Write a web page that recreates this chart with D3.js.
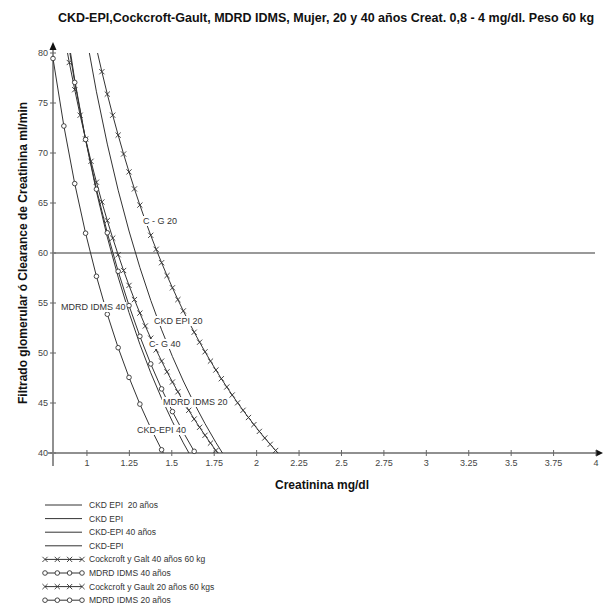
<!DOCTYPE html>
<html><head><meta charset="utf-8">
<script src="https://cdn.jsdelivr.net/npm/d3@7"></script>
<style>
html,body{margin:0;padding:0;background:#fff;}
text{font-family:"Liberation Sans",Arial,sans-serif;white-space:pre;}
</style></head>
<body>
<svg id="chart" width="603" height="609"></svg>
<script>
// ---------- data ----------
const titleText = "CKD-EPI,Cockcroft-Gault, MDRD IDMS, Mujer, 20 y 40 años Creat. 0,8 - 4 mg/dl. Peso 60 kg";
const xTitle = "Creatinina mg/dl";
const yTitle = "Filtrado glomerular ó Clearance de Creatinina ml/min";
const xTicks = [1,1.25,1.5,1.75,2,2.25,2.5,2.75,3,3.25,3.5,3.75,4];
const xTickLabels = ["1","1.25","1.5","1.75","2","2.25","2.5","2.75","3","3.25","3.5","3.75","4"];
const yTicks = [40,45,50,55,60,65,70,75,80];
const refValue = 60;

// creatinine grid (fine) used by Cockcroft-Gault series
const creatFine = [0.864,0.896,0.928,0.960,0.992,1.024,1.056,1.088,1.120,1.152,1.184,1.216,1.248,1.280,1.312,1.344,1.376,1.408,1.440,1.472,1.504,1.536,1.568,1.600,1.632,1.664,1.696,1.728,1.760,1.792,1.824,1.856,1.888,1.920,1.952,1.984,2.016,2.048,2.080,2.112,2.144];
const cg40 = [81.98,79.05,76.33,73.78,71.40,69.17,67.08,65.10,63.24,61.49,59.83,58.25,56.76,55.34,53.99,52.70,51.48,50.31,49.19,48.12,47.10,46.12,45.17,44.27,43.40,42.57,41.77,40.99,40.25,39.53,null,null,null,null,null,null,null,null,null,null,null];
const cg20 = [null,null,null,null,null,null,80.49,78.13,75.89,73.78,71.79,69.90,68.11,66.41,64.79,63.24,61.77,60.37,59.03,57.74,56.52,55.34,54.21,53.13,52.08,51.08,50.12,49.19,48.30,47.43,46.60,45.80,45.02,44.27,43.55,42.84,42.16,41.50,40.87,40.25,39.65];

// creatinine grid (coarse) used by MDRD and CKD-EPI series
const creatCoarse = [0.800,0.864,0.928,0.992,1.056,1.120,1.184,1.248,1.312,1.376,1.440,1.504,1.568,1.632,1.696,1.760,1.824];
const mdrd40 = [79.45,72.70,66.94,61.98,57.67,53.88,50.53,47.56,44.89,42.49,40.32,38.34,null,null,null,null,null];
const mdrd20 = [null,83.68,77.06,71.35,66.38,62.02,58.17,54.74,51.67,48.91,46.41,44.14,42.07,40.17,38.42,null,null];
const ckd40 = [null,84.30,77.32,71.33,66.14,61.59,57.59,54.04,50.87,48.02,45.46,43.13,41.01,39.07,null,null,null];
const ckd20 = [null,null,null,82.09,76.12,70.89,66.28,62.20,58.55,55.27,52.32,49.64,47.20,44.97,42.93,41.05,39.31];

const legendLabels = ["CKD EPI  20 años","CKD EPI","CKD-EPI 40 años","CKD-EPI","Cockcroft y Galt 40 años 60 kg","MDRD IDMS 40 años","Cockcroft y Gault 20 años 60 kgs","MDRD IDMS 20 años"];
const legendMarkers = ["none","none","none","none","cross","circle","cross","circle"];

const curveLabels = ["C - G 20","MDRD IDMS 40","CKD EPI 20","C- G 40","MDRD IDMS 20","CKD-EPI 40"];
const curveLabelX = [1.330,0.847,1.395,1.366,1.448,1.295];
const curveLabelY = [62.9,54.3,52.9,50.6,44.8,42.0];

// ---------- layout ----------
const svg = d3.select("#chart");
const x = d3.scaleLinear().domain([0.8,4]).range([53,596]);
const y = d3.scaleLinear().domain([40,80]).range([453,53]);
const ink = "#333";
const axisCol = "#909090";

svg.append("text").attr("x",326).attr("y",22).attr("text-anchor","middle")
  .attr("font-size","12.5px").attr("font-weight","bold").attr("fill","#111").text(titleText);

svg.append("defs").append("clipPath").attr("id","plotclip")
  .append("rect").attr("x",48).attr("y",50).attr("width",552).attr("height",407);
svg.append("defs").append("clipPath").attr("id","lineclip")
  .append("rect").attr("x",53).attr("y",y(80)).attr("width",545).attr("height",y(40)-y(80));

// reference line at 60
svg.append("line").attr("x1",x(0.8)).attr("x2",x(4)-1).attr("y1",y(refValue)).attr("y2",y(refValue))
  .attr("stroke","#999").attr("stroke-width",2);

// axes
svg.append("line").attr("x1",x(0.8)).attr("x2",x(0.8)).attr("y1",y(80)-4).attr("y2",466)
  .attr("stroke",axisCol).attr("stroke-width",2);
svg.append("line").attr("x1",48).attr("x2",x(4)+2).attr("y1",y(40)).attr("y2",y(40))
  .attr("stroke",axisCol).attr("stroke-width",2);
svg.append("path").attr("d",`M${x(0.8)},${y(80)-11} L${x(0.8)-3.5},${y(80)-3} L${x(0.8)+3.5},${y(80)-3} Z`).attr("fill","#111");
svg.append("path").attr("d",`M${x(4)+7},${y(40)} L${x(4)},${y(40)-3.5} L${x(4)},${y(40)+3.5} Z`).attr("fill","#111");

// y ticks
const yt = svg.append("g");
yTicks.forEach(v=>{
  yt.append("line").attr("x1",x(0.8)-3).attr("x2",x(0.8)+3).attr("y1",y(v)).attr("y2",y(v)).attr("stroke","#666");
  yt.append("text").attr("x",48).attr("y",y(v)).attr("dy","0.35em").attr("text-anchor","end")
    .attr("font-size","9px").attr("fill","#444").text(v);
});
// x ticks
const xt = svg.append("g");
xTicks.forEach((v,i)=>{
  xt.append("line").attr("x1",x(v)).attr("x2",x(v)).attr("y1",y(40)-3).attr("y2",y(40)+3).attr("stroke","#666");
  xt.append("text").attr("x",x(v)).attr("y",466).attr("text-anchor","middle")
    .attr("font-size","9px").attr("fill","#444").text(xTickLabels[i]);
});

svg.append("text").attr("x",322).attr("y",489).attr("text-anchor","middle")
  .attr("font-size","12px").attr("font-weight","bold").attr("fill","#111").text(xTitle);
svg.append("text").attr("transform","translate(27,253) rotate(-90)").attr("text-anchor","middle")
  .attr("font-size","12px").attr("font-weight","bold").attr("fill","#111").text(yTitle);

// series
const series = [
  {xs:creatCoarse, ys:ckd20, m:"none"},
  {xs:creatCoarse, ys:ckd40, m:"none"},
  {xs:creatFine, ys:cg40, m:"cross"},
  {xs:creatCoarse, ys:mdrd40, m:"circle"},
  {xs:creatFine, ys:cg20, m:"cross"},
  {xs:creatCoarse, ys:mdrd20, m:"circle"}
];
const lineGen = d3.line().defined(d=>d[1]!==null).x(d=>x(d[0])).y(d=>y(d[1]));
const gl = svg.append("g").attr("clip-path","url(#lineclip)");
const gm = svg.append("g").attr("clip-path","url(#plotclip)");
function drawMarker(g,type,cx,cy){
  if(type==="circle"){
    g.append("circle").attr("cx",cx).attr("cy",cy).attr("r",2.3).attr("fill","#fff").attr("stroke",ink).attr("stroke-width",0.9);
  } else if(type==="cross"){
    const s=2.6;
    g.append("path").attr("d",`M${cx-s},${cy-s}L${cx+s},${cy+s}M${cx-s},${cy+s}L${cx+s},${cy-s}`)
      .attr("stroke",ink).attr("stroke-width",0.9).attr("fill","none");
  }
}
series.forEach(s=>{
  const pts = s.xs.map((c,i)=>[c,s.ys[i]]);
  gl.append("path").attr("d",lineGen(pts)).attr("fill","none").attr("stroke",ink).attr("stroke-width",1);
  if(s.m!=="none"){
    pts.filter(p=>p[1]!==null && p[1]>=39.7 && p[1]<=80.3).forEach(p=>drawMarker(gm,s.m,x(p[0]),y(p[1])));
  }
});

// curve labels with white background
curveLabels.forEach((t,i)=>{
  const g = svg.append("g");
  const tx = g.append("text").attr("x",x(curveLabelX[i])).attr("y",y(curveLabelY[i]))
    .attr("font-size","9px").attr("fill","#333").text(t);
  const bb = tx.node().getBBox();
  g.insert("rect","text").attr("x",bb.x-1).attr("y",bb.y).attr("width",bb.width+2).attr("height",bb.height).attr("fill","#fff");
});

// legend
const lg = svg.append("g");
legendLabels.forEach((t,i)=>{
  const yy = 505 + i*13.6;
  lg.append("line").attr("x1",45).attr("x2",82).attr("y1",yy).attr("y2",yy).attr("stroke",ink).attr("stroke-width",1);
  if(legendMarkers[i]!=="none"){
    [45,57.3,69.6,82].forEach(mx=>drawMarker(lg,legendMarkers[i],mx,yy));
  }
  lg.append("text").attr("x",89).attr("y",yy).attr("dy","0.35em").attr("font-size","8.5px").attr("fill","#333").text(t);
});
</script>
</body></html>
